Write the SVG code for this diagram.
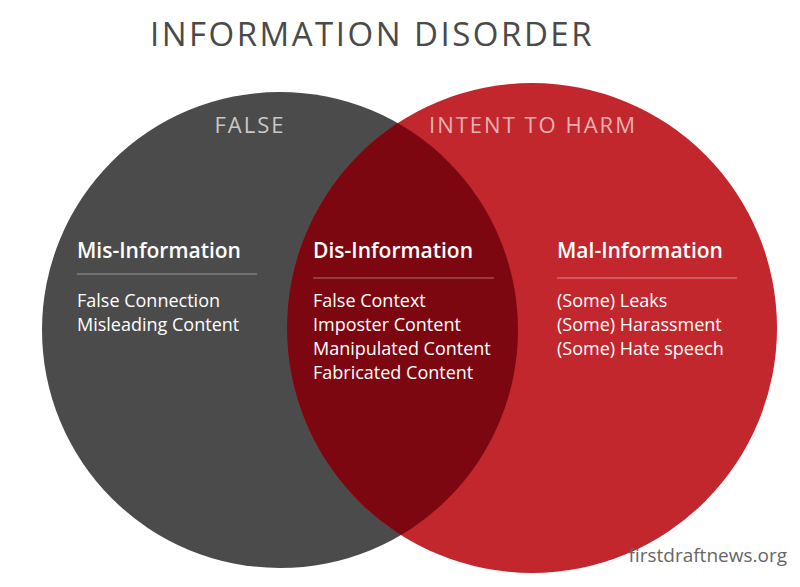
<svg xmlns="http://www.w3.org/2000/svg" width="800" height="587" viewBox="0 0 800 587">
<style>
text{font-family:"Open Sans","Liberation Sans",sans-serif;fill:#fff}
.h{font-size:21px;font-weight:600}
.b{font-size:18px}
.cap{font-size:22px;letter-spacing:2px;fill:#c8c8c8}
</style>
<defs>
<clipPath id="lc"><circle cx="280" cy="330" r="238"/></clipPath>
</defs>
<rect width="800" height="587" fill="#fff"/>
<text x="372" y="46" text-anchor="middle" style="font-size:33px;letter-spacing:2.5px;fill:#4a4a4a">INFORMATION DISORDER</text>
<g id="false"><circle cx="280" cy="330" r="238" fill="#4b4b4b"/></g>
<g id="harm"><circle cx="532" cy="328" r="245" fill="#c1272d"/></g>
<g id="overlap"><circle cx="532" cy="328" r="245" fill="#7d0711" clip-path="url(#lc)"/></g>
<text class="cap" x="250" y="133" text-anchor="middle">FALSE</text>
<text class="cap" x="533" y="133" text-anchor="middle" style="fill:#e8b0b2">INTENT TO HARM</text>
<g id="mis"><text class="h" x="77" y="258">Mis-Information</text>
<line x1="77" y1="274" x2="257" y2="274" stroke="#9a9a9a"/>
<text class="b" x="77" y="307">False Connection</text><text class="b" x="77" y="331">Misleading Content</text></g>
<g id="dis"><text class="h" x="313" y="258">Dis-Information</text>
<line x1="313" y1="278" x2="494" y2="278" stroke="#b07078"/>
<text class="b" x="313" y="307">False Context</text><text class="b" x="313" y="331">Imposter Content</text><text class="b" x="313" y="355">Manipulated Content</text><text class="b" x="313" y="379">Fabricated Content</text></g>
<g id="mal"><text class="h" x="557" y="258">Mal-Information</text>
<line x1="557" y1="278" x2="737" y2="278" stroke="#e08a8e"/>
<text class="b" x="557" y="307">(Some) Leaks</text><text class="b" x="557" y="331">(Some) Harassment</text><text class="b" x="557" y="355">(Some) Hate speech</text></g>
<text x="787" y="562" text-anchor="end" style="font-size:19px;fill:#666">firstdraftnews.org</text>
</svg>
